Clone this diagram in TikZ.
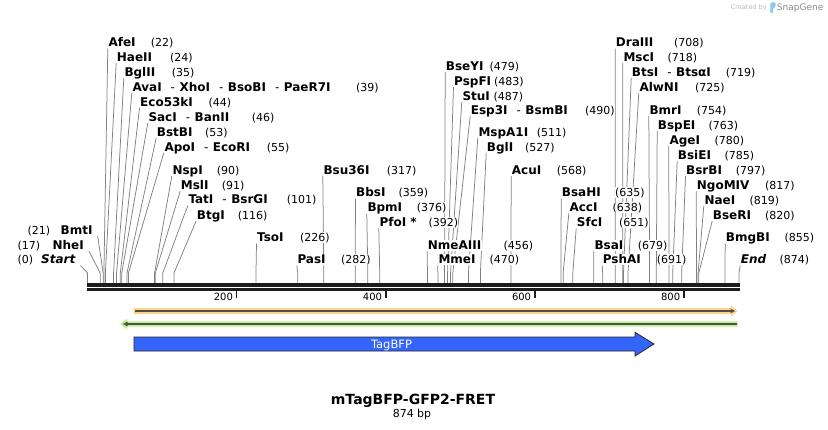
\documentclass[tikz,border=0pt]{standalone}
\usepackage{fontspec}
\setmainfont{DejaVu Sans}
\usetikzlibrary{backgrounds}
\definecolor{leadgray}{RGB}{128,128,128}
\definecolor{bbone}{RGB}{28,28,28}
\definecolor{orgband}{RGB}{253,211,140}
\definecolor{grnband}{RGB}{190,240,140}
\definecolor{darkln}{RGB}{80,80,80}
\definecolor{tagblue}{RGB}{52,101,250}
\definecolor{logoblue}{RGB}{140,200,240}
\newcommand\sitex[1]{87.5+0.7455*#1}
\newcommand\sepx{\mdseries\hspace{9pt}-\hspace{4.5pt}\bfseries}
\begin{document}
\begin{tikzpicture}[x=1pt,y=-1pt,
  nm/.style={font=\fontsize{12}{14}\selectfont\bfseries, fill=white, inner xsep=0.5pt, inner ysep=0.5pt, text height=8.8pt, text depth=1.2pt},
  nmR/.style={nm, anchor=base west},
  nmL/.style={nm, anchor=base east, inner xsep=5pt},
  num/.style={font=\fontsize{11}{13}\selectfont, fill=white, inner xsep=0pt, inner ysep=0.5pt, text height=8.8pt, text depth=1.2pt, anchor=base west},
  leader/.style={draw=leadgray, line width=0.75pt},
  ticklab/.style={font=\fontsize{10}{12}\selectfont, anchor=base east, inner sep=0pt},
]
\useasboundingbox (0,0) rectangle (828,429);

% ---- site labels (right of their leader)
\foreach \pp/\xx/\yy/\nx/\lab in {
22/108.3/42.3/150.7/AfeI,
24/116.7/56.7/170/HaeII,
35/124.3/71.7/171.7/BglII,
39/132.3/86.7/356/{AvaI\sepx XhoI\sepx BsoBI\sepx PaeR7I},
44/140/101.7/208.3/Eco53kI,
46/148.3/116.7/251.7/{SacI\sepx BanII},
53/156.7/131.7/205/BstBI,
55/164.3/146.7/266.7/{ApoI\sepx EcoRI},
90/172.3/170/216.7/NspI,
91/180.7/185/221.7/MslI,
101/188.3/199.3/286.7/{TatI\sepx BsrGI},
116/196.7/214.7/237.7/BtgI,
226/257/237.3/300/TsoI,
282/297.3/259.3/341/PasI,
317/323.3/170/386.7/Bsu36I,
359/356/192.3/398.3/BbsI,
376/367.3/207.3/416.7/BpmI,
392/379.3/221.7/428.3/{PfoI *},
456/427.7/245/503.3/NmeAIII,
470/438.3/259.3/489.3/MmeI,
479/445.7/65.7/489.5/BseYI,
483/454/80.7/494/PspFI,
487/462.3/95.7/493.5/StuI,
490/470.7/110/585/{Esp3I\sepx BsmBI},
511/478.3/131.7/536.7/MspA1I,
527/486.7/146.7/525/BglI,
568/511.7/170/556.7/AcuI,
635/561.7/192.3/615/BsaHI,
638/569.3/207.3/612.3/AccI,
651/576.7/222.3/619/SfcI,
679/594.3/245/637.7/BsaI,
691/602.7/259.3/656.7/PshAI,
708/615.7/42.3/674/DraIII,
718/623.3/56.7/667.3/MscI,
719/631.7/71.7/725.7/{BtsI\sepx BtsαI},
725/639.3/86.7/695/AlwNI,
754/649.3/110/696.7/BmrI,
763/657.7/125/708.3/BspEI,
780/669.3/140/714.3/AgeI,
785/677.7/155/724.3/BsiEI,
797/686/170/735.7/BsrBI,
817/696.7/185/765/NgoMIV,
819/704.3/200/749.3/NaeI,
820/712.7/215/765/BseRI,
855/725.7/237.3/784.3/BmgBI,
874/740.7/259.3/779.3/{\itshape End}}{
  \node[nmR] (s\pp) at ({\xx-0.5},{\yy+4.3}) {\lab};
  \node[num] (s\pp-n) at (\nx,{\yy+4.3}) {(\pp)};
}

% ---- site labels (left of their leader)
\node[nmL] (s21) at (97.7,234.3) {BmtI};
\node[num] (s21-n) at (27.3,234.3) {(21)};
\node[nmL] (s17) at (89,249.3) {NheI};
\node[num] (s17-n) at (17.3,249.3) {(17)};
\node[nmL] (s0) at (80.5,263.6) {\itshape Start};
\node[num] (s0-n) at (17.3,263.6) {(0)};

% ---- leaders
\begin{scope}[on background layer]
\foreach \pp in {22,24,35,39,44,46,53,55,90,91,101,116,226,282,317,359,376,392,456,470,479,483,487,490,511,527,568,635,638,651,679,691,708,718,719,725,754,763,780,785,797,817,819,820,855,874}{
  \draw[leader] (s\pp.south west) -- ({\sitex{\pp}},273) -- ({\sitex{\pp}},284);
}
\foreach \pp in {21,17,0}{
  \draw[leader] (s\pp.south east) -- ({\sitex{\pp}},273) -- ({\sitex{\pp}},284);
}
\end{scope}

% ---- backbone
\draw[bbone, line width=3.4pt] (87.3,285) -- (740,285);
\draw[bbone, line width=2.4pt] (87.3,289.5) -- (740,289.5);

% ---- ruler
\foreach \t in {200,400,600,800}{
  \draw[bbone, line width=1.6pt] ({\sitex{\t}},290) -- ({\sitex{\t}},297.8);
  \node[ticklab] (t\t) at ({\sitex{\t}-3.5},300) {\t};
}

% ---- forward feature (orange)
\fill[orgband] (133.5,308) -- (731,308) -- (731,305.3) -- (737.5,311) -- (731,316.7) -- (731,314) -- (133.5,314) -- cycle;
\draw[darkln, line width=2pt] (134.5,311) -- (731,311);
\fill[darkln] (730.5,308.6) -- (735,311) -- (730.5,313.4) -- cycle;

% ---- reverse feature (green)
\fill[grnband] (737.7,321.3) -- (127,321.3) -- (127,318.6) -- (120,324) -- (127,329.4) -- (127,326.7) -- (737.7,326.7) -- cycle;
\draw[darkln, line width=2pt] (736.5,324) -- (127,324);
\fill[darkln] (127.5,321.6) -- (123,324) -- (127.5,326.4) -- cycle;

% ---- TagBFP
\draw[black!85, line width=0.8pt, fill=tagblue] (134,337) -- (635,337) -- (635,332.3) -- (654,344) -- (635,356) -- (635,351) -- (134,351) -- cycle;
\node[font=\fontsize{11.5}{13}\selectfont, text=white, inner sep=0pt, anchor=base] (tagbfp) at (391.5,348.2) {TagBFP};

% ---- title
\node[font=\fontsize{14}{16}\selectfont\bfseries, inner sep=0pt, anchor=base] (title) at (413,404) {mTagBFP-GFP2-FRET};
\node[font=\fontsize{11}{13}\selectfont, inner sep=0pt, anchor=base] (len) at (412,417.3) {874 bp};

% ---- watermark
\node[font=\fontsize{6.5}{8}\selectfont, text=black!28, inner sep=0pt, anchor=base west] (cb) at (730.7,9.8) {Created by};
\fill[logoblue, rounded corners=1.2pt] (770.3,13.5) -- (770.3,2.3) -- (775.6,2.3) -- (775.6,6.8) -- (772.9,8.6) -- (772.9,13.5) -- cycle;
\node[font=\fontsize{9}{10}\selectfont, text=black!45, inner sep=0pt, anchor=base west] (sg) at (776.7,10.6) {SnapGene};
\end{tikzpicture}
\end{document}
